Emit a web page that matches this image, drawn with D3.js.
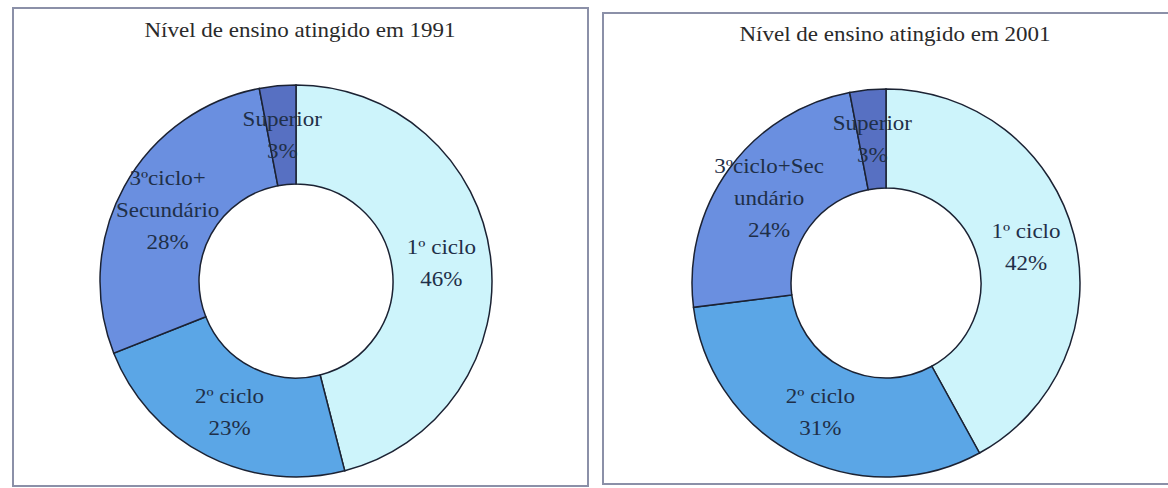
<!DOCTYPE html>
<html>
<head>
<meta charset="utf-8">
<script src="https://cdn.jsdelivr.net/npm/d3@7"></script>
<style>
  body { margin: 0; background: #ffffff; }
</style>
</head>
<body>
<script>
// Chart data
var categories = ["1º ciclo", "2º ciclo", "3ºciclo+Secundário", "Superior"];
var values1991 = [46, 23, 28, 3];
var values2001 = [42, 31, 24, 3];
var titles = ["Nível de ensino atingido em 1991", "Nível de ensino atingido em 2001"];
// label text as shown on each chart (line breaks differ)
var labelLines1991 = [["1º ciclo"], ["2º ciclo"], ["3ºciclo+", "Secundário"], ["Superior"]];
var labelLines2001 = [["1º ciclo"], ["2º ciclo"], ["3ºciclo+Sec", "undário"], ["Superior"]];

var colors = ["#cdf4fb", "#5ba6e6", "#6a8fe0", "#5770c2"];
var fontFamily = "'Liberation Serif', Tinos, 'Times New Roman', Times, serif";

// SVG area
var svgWidth = 1168;
var svgHeight = 488;

var svg = d3.select("body")
  .append("svg")
  .attr("width", svgWidth)
  .attr("height", svgHeight);

// panel settings for each donut
var panels = [
  { box: [13, 8, 575, 478], cx: 296, cy: 281, outer: 196, inner: 97, titleX: 300, titleY: 37,
    values: values1991, lines: labelLines1991, title: titles[0] },
  { box: [603, 13, 600, 471], cx: 886, cy: 283, outer: 194, inner: 95, titleX: 895, titleY: 41,
    values: values2001, lines: labelLines2001, title: titles[1] }
];

var pie = d3.pie().sort(null).value(d => d);

panels.forEach(function(p) {
  var g = svg.append("g");

  // frame
  g.append("rect")
    .attr("x", p.box[0])
    .attr("y", p.box[1])
    .attr("width", p.box[2])
    .attr("height", p.box[3])
    .attr("fill", "none")
    .attr("stroke", "#8b90a8")
    .attr("stroke-width", 2);

  // title
  g.append("text")
    .attr("transform", `translate(${p.titleX}, ${p.titleY}) scale(1.15, 1)`)
    .attr("text-anchor", "middle")
    .attr("font-family", fontFamily)
    .style("font-size", "20px")
    .attr("fill", "#2a2a2a")
    .text(p.title);

  var arc = d3.arc().innerRadius(p.inner).outerRadius(p.outer);

  var chartGroup = g.append("g")
    .attr("transform", `translate(${p.cx}, ${p.cy})`);

  var arcs = pie(p.values);

  chartGroup.selectAll("path")
    .data(arcs)
    .enter()
    .append("path")
    .attr("d", arc)
    .attr("fill", (d, i) => colors[i])
    .attr("stroke", "#1b2233")
    .attr("stroke-width", 1.5);

  // data labels: category lines + percentage, centred on the slice
  var lineGap = 32;
  arcs.forEach(function(d, i) {
    var c = arc.centroid(d);
    var lines = p.lines[i].concat([d.data + "%"]);
    var top = c[1] - (lines.length - 1) * lineGap / 2;
    lines.forEach(function(t, k) {
      chartGroup.append("text")
        .attr("transform", `translate(${c[0]}, ${top + k * lineGap + 7}) scale(1.15, 1)`)
        .attr("text-anchor", "middle")
        .attr("font-family", fontFamily)
        .style("font-size", "20px")
        .attr("fill", "#1f2f48")
        .text(t);
    });
  });
});
</script>
</body>
</html>
